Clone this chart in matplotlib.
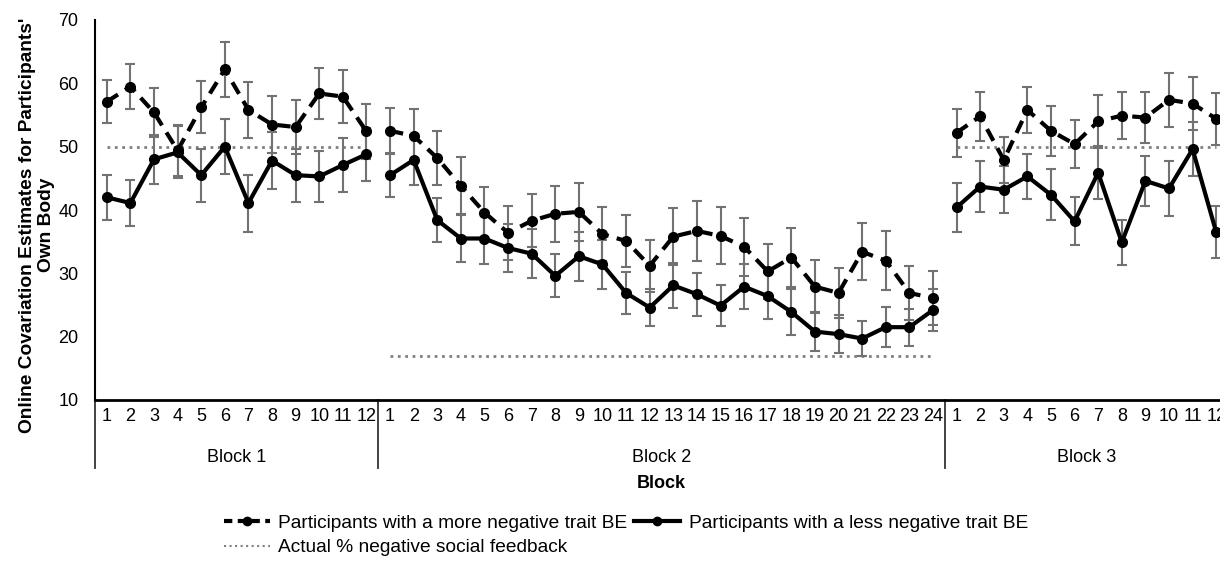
import numpy as np
import matplotlib.pyplot as plt
from matplotlib.lines import Line2D
import matplotlib.transforms as mtransforms

plt.rcParams['font.family'] = ['Liberation Sans', 'DejaVu Sans']

# ------------------- DATOS -------------------
block_names = ["Block 1", "Block 2", "Block 3"]
block_trials = [12, 24, 12]

more_neg_b1 = [57.1, 59.5, 55.4, 49.4, 56.2, 62.2, 55.8, 53.5, 53.1, 58.4, 57.9, 52.4]
more_neg_b2 = [52.5, 51.7, 48.2, 43.8, 39.6, 36.4, 38.3, 39.4, 39.7, 36.2, 35.1, 31.2,
               35.8, 36.7, 35.9, 34.2, 30.3, 32.5, 27.9, 26.9, 33.4, 32.0, 26.9, 26.1]
more_neg_b3 = [52.2, 54.8, 47.9, 55.8, 52.5, 50.4, 54.0, 54.9, 54.6, 57.4, 56.8, 54.4]

more_err_b1 = [3.4, 3.6, 3.8, 4.1, 4.1, 4.3, 4.4, 4.5, 4.3, 4.0, 4.2, 4.4]
more_err_b2 = [3.6, 4.3, 4.3, 4.5, 4.1, 4.3, 4.2, 4.4, 4.6, 4.3, 4.1, 4.1,
               4.5, 4.7, 4.5, 4.6, 4.3, 4.6, 4.2, 4.0, 4.5, 4.7, 4.3, 4.2]
more_err_b3 = [3.8, 3.9, 3.6, 3.6, 4.0, 3.8, 4.2, 3.7, 4.0, 4.3, 4.2, 4.1]

less_neg_b1 = [42.0, 41.1, 48.0, 49.1, 45.5, 50.0, 41.1, 47.8, 45.5, 45.3, 47.1, 48.8]
less_neg_b2 = [45.5, 47.9, 38.4, 35.5, 35.5, 34.0, 33.1, 29.6, 32.7, 31.4, 26.9, 24.6,
               28.1, 26.7, 24.9, 27.9, 26.4, 23.9, 20.8, 20.4, 19.7, 21.5, 21.5, 24.2]
less_neg_b3 = [40.4, 43.7, 43.2, 45.3, 42.4, 38.2, 45.9, 34.9, 44.6, 43.4, 49.6, 36.5]

less_err_b1 = [3.5, 3.7, 3.9, 4.1, 4.2, 4.3, 4.5, 4.5, 4.2, 4.0, 4.2, 4.2]
less_err_b2 = [3.5, 3.9, 3.5, 3.7, 4.0, 3.8, 3.9, 3.4, 3.9, 3.8, 3.3, 2.9,
               3.6, 3.4, 3.2, 3.6, 3.6, 3.7, 3.1, 3.0, 2.8, 3.2, 2.9, 3.3]
less_err_b3 = [3.9, 4.0, 3.7, 3.6, 4.0, 3.8, 4.2, 3.6, 4.0, 4.4, 4.3, 4.1]

actual_feedback = [50, 17, 50]

more_neg = [more_neg_b1, more_neg_b2, more_neg_b3]
more_err = [more_err_b1, more_err_b2, more_err_b3]
less_neg = [less_neg_b1, less_neg_b2, less_neg_b3]
less_err = [less_err_b1, less_err_b2, less_err_b3]

ERR_COLOR = '#727272'
DOT_COLOR = '#808080'

# ------------------- FIGURA -------------------
fig = plt.figure(figsize=(12.2, 5.77), dpi=100)
ax = fig.add_axes([95 / 1220, 1 - 400 / 577, 1133 / 1220, 380 / 577])

start = 0
tick_labels = []
for b, n in enumerate(block_trials):
    x = np.arange(start, start + n)
    ax.plot([x[0], x[-1]], [actual_feedback[b]] * 2, linestyle=':', color=DOT_COLOR,
            lw=2, zorder=1)
    ax.errorbar(x, more_neg[b], yerr=more_err[b], fmt='none', ecolor=ERR_COLOR,
                elinewidth=1.5, capsize=3.5, capthick=1.5, zorder=2)
    ax.errorbar(x, less_neg[b], yerr=less_err[b], fmt='none', ecolor=ERR_COLOR,
                elinewidth=1.5, capsize=3.5, capthick=1.5, zorder=2)
    ax.plot(x, more_neg[b], color='black', lw=3, linestyle=(0, (3.2, 2)),
            marker='o', markersize=7, zorder=3)
    ax.plot(x, less_neg[b], color='black', lw=3, linestyle='-',
            marker='o', markersize=7, zorder=3)
    tick_labels += [str(i + 1) for i in range(n)]
    start += n

total = sum(block_trials)
ax.set_xlim(-0.5, total - 0.5)
ax.set_ylim(10, 70)
ax.set_yticks(range(10, 71, 10))
ax.set_xticks(range(total), tick_labels)
ax.tick_params(axis='both', length=0, labelsize=13, colors='black')
ax.tick_params(axis='x', pad=6)
ax.tick_params(axis='y', pad=12)

for side in ['top', 'right']:
    ax.spines[side].set_visible(False)
ax.spines['left'].set_linewidth(1.5)
ax.spines['bottom'].set_linewidth(2)

fig.text(37 / 1220, 1 - 225 / 577,
         "Online Covariation Estimates for Participants'\nOwn Body",
         rotation=90, ha='center', va='center', multialignment='center',
         fontsize=13.8, fontweight='bold', linespacing=1.15)

# separadores y etiquetas de bloque
trans = mtransforms.blended_transform_factory(ax.transData, ax.transAxes)
edges = np.cumsum([0] + block_trials) - 0.5
for e in edges[:-1]:
    ax.add_line(Line2D([e, e], [0, -68 / 380], transform=trans, color='#333333',
                       lw=1.3, clip_on=False))
for b, n in enumerate(block_trials):
    center = (edges[b] + edges[b + 1]) / 2
    ax.text(center, -57 / 380, block_names[b], transform=trans, ha='center',
            va='center', fontsize=13)

ax.text(0.5, -84 / 380, "Block", transform=ax.transAxes, ha='center', va='center',
        fontsize=13, fontweight='bold')

# leyenda
h_more = Line2D([], [], color='black', lw=3, linestyle=(0, (2, 1.3)), marker='o',
                markersize=6)
h_less = Line2D([], [], color='black', lw=3, linestyle='-', marker='o', markersize=6)
h_act = Line2D([], [], color=DOT_COLOR, lw=1.5, linestyle=':')
fig.legend([h_more, h_act, h_less],
           ['Participants with a more negative trait BE',
            'Actual % negative social feedback',
            'Participants with a less negative trait BE'],
           ncol=2, loc='upper left', bbox_to_anchor=(216 / 1220, 1 - 507 / 577),
           frameon=False, fontsize=13.8, handlelength=2.4, handletextpad=0.45,
           columnspacing=0.35, labelspacing=0.35, borderaxespad=0)

fig.savefig('out.png', dpi=100)
